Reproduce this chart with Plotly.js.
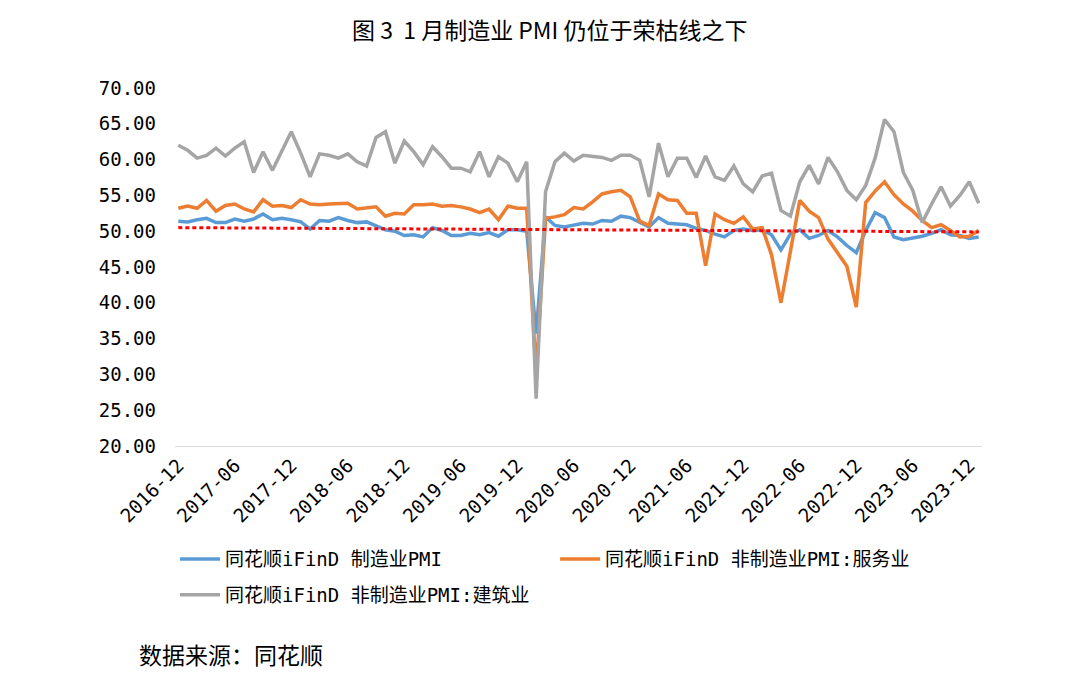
<!DOCTYPE html>
<html>
<head>
<meta charset="utf-8">
<script src="https://cdn.plot.ly/plotly-3.0.1.min.js"></script>
<style>html,body{margin:0;padding:0;background:#fff;}#chart{width:1080px;height:684px;}</style>
</head>
<body>
<div id="chart"></div>
<script>
const months = [
 "2016-12",
 "2017-01","2017-02","2017-03","2017-04","2017-05","2017-06","2017-07","2017-08","2017-09","2017-10","2017-11","2017-12",
 "2018-01","2018-02","2018-03","2018-04","2018-05","2018-06","2018-07","2018-08","2018-09","2018-10","2018-11","2018-12",
 "2019-01","2019-02","2019-03","2019-04","2019-05","2019-06","2019-07","2019-08","2019-09","2019-10","2019-11","2019-12",
 "2020-01","2020-02","2020-03","2020-04","2020-05","2020-06","2020-07","2020-08","2020-09","2020-10","2020-11","2020-12",
 "2021-01","2021-02","2021-03","2021-04","2021-05","2021-06","2021-07","2021-08","2021-09","2021-10","2021-11","2021-12",
 "2022-01","2022-02","2022-03","2022-04","2022-05","2022-06","2022-07","2022-08","2022-09","2022-10","2022-11","2022-12",
 "2023-01","2023-02","2023-03","2023-04","2023-05","2023-06","2023-07","2023-08","2023-09","2023-10","2023-11","2023-12",
 "2024-01"
];
const manufacturing = [
 51.4,
 51.3,51.6,51.8,51.2,51.2,51.7,51.4,51.7,52.4,51.6,51.8,51.6,
 51.3,50.3,51.5,51.4,51.9,51.5,51.2,51.3,50.8,50.2,50.0,49.4,
 49.5,49.2,50.5,50.1,49.4,49.4,49.7,49.5,49.8,49.3,50.2,50.2,
 50.0,35.7,52.0,50.8,50.6,50.9,51.1,51.0,51.5,51.4,52.1,51.9,
 51.3,50.6,51.9,51.1,51.0,50.9,50.4,50.1,49.6,49.2,50.1,50.3,
 50.1,50.2,49.5,47.4,49.6,50.2,49.0,49.4,50.1,49.2,48.0,47.0,
 50.1,52.6,51.9,49.2,48.8,49.0,49.3,49.7,50.2,49.5,49.4,49.0,
 49.2
];
const services = [
 53.2,
 53.5,53.2,54.3,52.8,53.6,53.8,53.1,52.7,54.4,53.5,53.6,53.3,
 54.4,53.8,53.7,53.8,53.9,53.9,53.1,53.3,53.4,52.1,52.5,52.4,
 53.7,53.7,53.8,53.5,53.6,53.4,53.1,52.6,53.1,51.6,53.5,53.2,
 53.2,30.1,51.8,52.0,52.3,53.3,53.1,54.1,55.2,55.5,55.7,54.8,
 51.4,50.8,55.2,54.4,54.3,52.5,52.5,45.2,52.4,51.6,51.1,52.0,
 50.3,50.5,46.7,40.0,47.1,54.3,52.8,51.9,48.9,47.0,45.1,39.4,
 54.0,55.6,56.9,55.1,53.8,52.8,51.5,50.5,50.9,50.1,49.2,49.3,
 50.1
];
const construction = [
 62.0,
 61.3,60.2,60.6,61.6,60.5,61.6,62.5,58.2,61.1,58.5,61.3,63.9,
 60.9,57.6,60.8,60.6,60.2,60.8,59.7,59.1,63.1,63.9,59.5,62.6,
 61.1,59.3,61.8,60.4,58.8,58.8,58.3,61.1,57.6,60.4,59.5,56.9,
 59.7,26.6,55.5,59.7,60.9,59.8,60.6,60.4,60.3,59.9,60.6,60.6,
 59.9,54.8,62.3,57.6,60.2,60.2,57.5,60.5,57.6,57.1,59.1,56.6,
 55.5,57.7,58.1,52.9,52.1,56.9,59.2,56.6,60.3,58.3,55.7,54.4,
 56.4,60.2,65.6,63.9,58.2,55.7,51.2,53.8,56.2,53.5,55.0,56.9,
 53.9
];
const trendEnds = [50.5, 49.9];
const tickLabels = ["2016-12","2017-06","2017-12","2018-06","2018-12","2019-06","2019-12","2020-06","2020-12","2021-06","2021-12","2022-06","2022-12","2023-06","2023-12"];
const yTicks = [20,25,30,35,40,45,50,55,60,65,70];
const seriesNames = ["同花顺iFinD 制造业PMI","同花顺iFinD 非制造业PMI:服务业","同花顺iFinD 非制造业PMI:建筑业"];

const F = "DejaVu Sans Mono, Noto Sans CJK SC, sans-serif";
const traces = [
 {x: months, y: manufacturing, name: seriesNames[0], type: 'scatter', mode: 'lines', legend: 'legend', legendgroup: 'a', line: {color: '#5B9BD5', width: 3.5}},
 {x: months, y: services, name: seriesNames[1], type: 'scatter', mode: 'lines', legend: 'legend2', legendgroup: 'b', line: {color: '#ED7D31', width: 3.5}},
 {x: months, y: construction, name: seriesNames[2], type: 'scatter', mode: 'lines', legend: 'legend', legendgroup: 'c', line: {color: '#A5A5A5', width: 3.5}},
 {x: [months[0], months[months.length-1]], y: trendEnds, type: 'scatter', mode: 'lines', showlegend: false, hoverinfo: 'skip', line: {color: '#FF0000', width: 3, dash: '4px,3px'}}
];
const legendFont = {family: F, size: 19, color: '#000'};
const layout = {
 width: 1080, height: 684,
 paper_bgcolor: '#fff', plot_bgcolor: '#fff',
 margin: {l: 175, r: 98, t: 88, b: 238},
 title: {text: '图 3  1 月制造业 PMI 仍位于荣枯线之下', x: 0.509, xanchor: 'center', y: 0.955, yanchor: 'middle', font: {family: 'Noto Sans CJK SC', size: 23, color: '#000'}},
 xaxis: {type: 'category', range: [-0.35, 85.35], tickmode: 'array', tickvals: tickLabels, ticktext: tickLabels, tickangle: -45,
   showgrid: false, zeroline: false, showline: true, linecolor: '#D9D9D9', linewidth: 1, ticks: '',
   tickfont: {family: F, size: 19, color: '#000'}},
 yaxis: {range: [20, 70], tickvals: yTicks, tickformat: '.2f', showgrid: false, zeroline: false, showline: false, ticks: '',
   ticklabelstandoff: 18, tickfont: {family: F, size: 19, color: '#000'}},
 legend: {orientation: 'v', x: 0.0, xanchor: 'left', y: -0.263, yanchor: 'top', font: legendFont, bgcolor: 'rgba(0,0,0,0)', itemwidth: 40, tracegroupgap: 8},
 legend2: {orientation: 'v', x: 0.471, xanchor: 'left', y: -0.263, yanchor: 'top', font: legendFont, bgcolor: 'rgba(0,0,0,0)', itemwidth: 40},
 annotations: [
  {text: '数据来源：同花顺', xref: 'paper', yref: 'paper', x: (137-175)/807, y: -(654-446)/358, xanchor: 'left', yanchor: 'middle', showarrow: false,
   font: {family: 'Noto Sans CJK SC', size: 23, color: '#000'}}
 ],
 showlegend: true
};
Plotly.newPlot('chart', traces, layout, {displayModeBar: false, staticPlot: true});
</script>
</body>
</html>
